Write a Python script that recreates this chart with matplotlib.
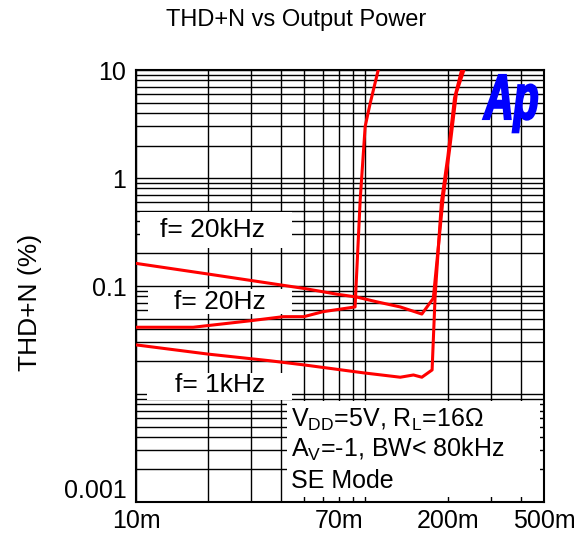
import matplotlib
matplotlib.use("Agg")
import matplotlib.pyplot as plt
from matplotlib.ticker import LogLocator, FixedLocator, NullFormatter
from matplotlib.patches import Rectangle, PathPatch
from matplotlib.textpath import TextPath
from matplotlib.font_manager import FontProperties
import matplotlib.transforms as mtransforms

plt.rcParams['font.family'] = ['Liberation Sans', 'DejaVu Sans']
plt.rcParams['mathtext.fontset'] = 'custom'
plt.rcParams['mathtext.rm'] = 'Liberation Sans'

# Output power (W) and THD+N (%)
p_20k = [0.01, 0.02, 0.05, 0.0686, 0.083, 0.1, 0.126, 0.155, 0.173, 0.19, 0.202, 0.216, 0.232]
thd_20k = [0.162, 0.129, 0.095, 0.084, 0.079, 0.0716, 0.064, 0.055, 0.077, 0.65, 1.8, 6.2, 10]

p_20 = [0.01, 0.0173, 0.03, 0.041, 0.05, 0.06, 0.0817, 0.0858, 0.09, 0.0944, 0.102]
thd_20 = [0.0415, 0.0415, 0.0477, 0.052, 0.052, 0.0578, 0.064, 0.625, 3.0, 4.9, 10]

p_1k = [0.01, 0.02, 0.0362, 0.05, 0.0885, 0.126, 0.143, 0.155, 0.171, 0.176, 0.187, 0.199, 0.212, 0.227]
thd_1k = [0.0285, 0.0234, 0.0203, 0.0186, 0.0157, 0.0143, 0.015, 0.0143, 0.0167, 0.08, 0.6, 1.6, 5.5, 10]

x_ticks = [0.01, 0.07, 0.2, 0.5]
x_labels = ['10m', '70m', '200m', '500m']
y_ticks = [0.001, 0.01, 0.1, 1, 10]
y_labels = ['0.001', '', '0.1', '1', '10']

fig = plt.figure(figsize=(5.82, 5.37), dpi=100)
ax = fig.add_axes([0.2337, 0.0652, 0.701, 0.8044])

ax.set_xscale('log')
ax.set_yscale('log')
ax.set_xlim(0.01, 0.5)
ax.set_ylim(0.001, 10)

# grid
ax.xaxis.set_minor_locator(LogLocator(base=10, subs=range(2, 10)))
ax.yaxis.set_minor_locator(LogLocator(base=10, subs=range(2, 10)))
ax.xaxis.set_minor_formatter(NullFormatter())
ax.yaxis.set_minor_formatter(NullFormatter())
ax.grid(True, which='both', color='black', linewidth=1.0)
ax.set_axisbelow(True)

ax.xaxis.set_major_locator(FixedLocator(x_ticks))
ax.set_xticks(x_ticks)
ax.set_xticklabels(x_labels)
ax.set_yticks(y_ticks)
ax.set_yticklabels(y_labels)
ax.tick_params(which='both', length=0, labelsize=18)
ax.tick_params(axis='x', pad=5)
ax.tick_params(axis='y', pad=7)
for lab in ax.get_yticklabels():
    if lab.get_text() == '0.001':
        lab.set_transform(lab.get_transform() + mtransforms.ScaledTranslation(0, 10 / 72, fig.dpi_scale_trans))

for sp in ax.spines.values():
    sp.set_linewidth(1.5)

ax.plot(p_20k, thd_20k, color='red', linewidth=2.2, zorder=3)
ax.plot(p_20, thd_20, color='red', linewidth=2.2, zorder=3)
ax.plot(p_1k, thd_1k, color='red', linewidth=2.2, zorder=3)

# white label boxes (axes fraction)
W, H = 408.0, 432.0
def box(x0, y0, x1, y1):
    ax.add_patch(Rectangle(((x0 - 136) / W, (502 - y1) / H), (x1 - x0) / W, (y1 - y0) / H,
                           transform=ax.transAxes, facecolor='white', edgecolor='none', zorder=2))

box(140, 212, 292, 248)
box(148, 289, 292, 314)
box(147, 373, 292, 400)
box(287, 401, 540, 497)

def txt(x, y, s, **kw):
    ax.text((x - 136) / W, (502 - y) / H, s, transform=ax.transAxes, zorder=4, **kw)

txt(212, 230, 'f= 20kHz', fontsize=19, ha='center', va='center')
txt(220, 302, 'f= 20Hz', fontsize=19, ha='center', va='center')
txt(220, 385, 'f= 1kHz', fontsize=19, ha='center', va='center')
txt(291, 427, r'V$_{\rm DD}$=5V, R$_{\rm L}$=16$\Omega$', fontsize=18, ha='left', va='baseline')
txt(291, 457, r'A$_{\rm V}$=-1, BW< 80kHz', fontsize=18, ha='left', va='baseline')
txt(291, 488, 'SE Mode', fontsize=18, ha='left', va='baseline')

# Ap logo, squeezed horizontally (pixel coordinates)
logo = TextPath((0, 0), 'Ap', size=64,
                prop=FontProperties(family='Liberation Sans', weight='bold', style='italic'))
logo_tr = mtransforms.Affine2D().scale(0.64, 1.0).translate(484, 537 - 119)
fig.patches.append(PathPatch(logo, transform=logo_tr, facecolor='blue', edgecolor='blue',
                             linewidth=1.5, zorder=5, figure=fig))

fig.text(0.508, 0.963, 'THD+N vs Output Power', fontsize=17, ha='center', va='center')
fig.text(30 / 582, 1 - 302 / 537, 'THD+N (%)', fontsize=19, rotation=90, ha='center', va='center')

fig.savefig('out.png', dpi=100)
